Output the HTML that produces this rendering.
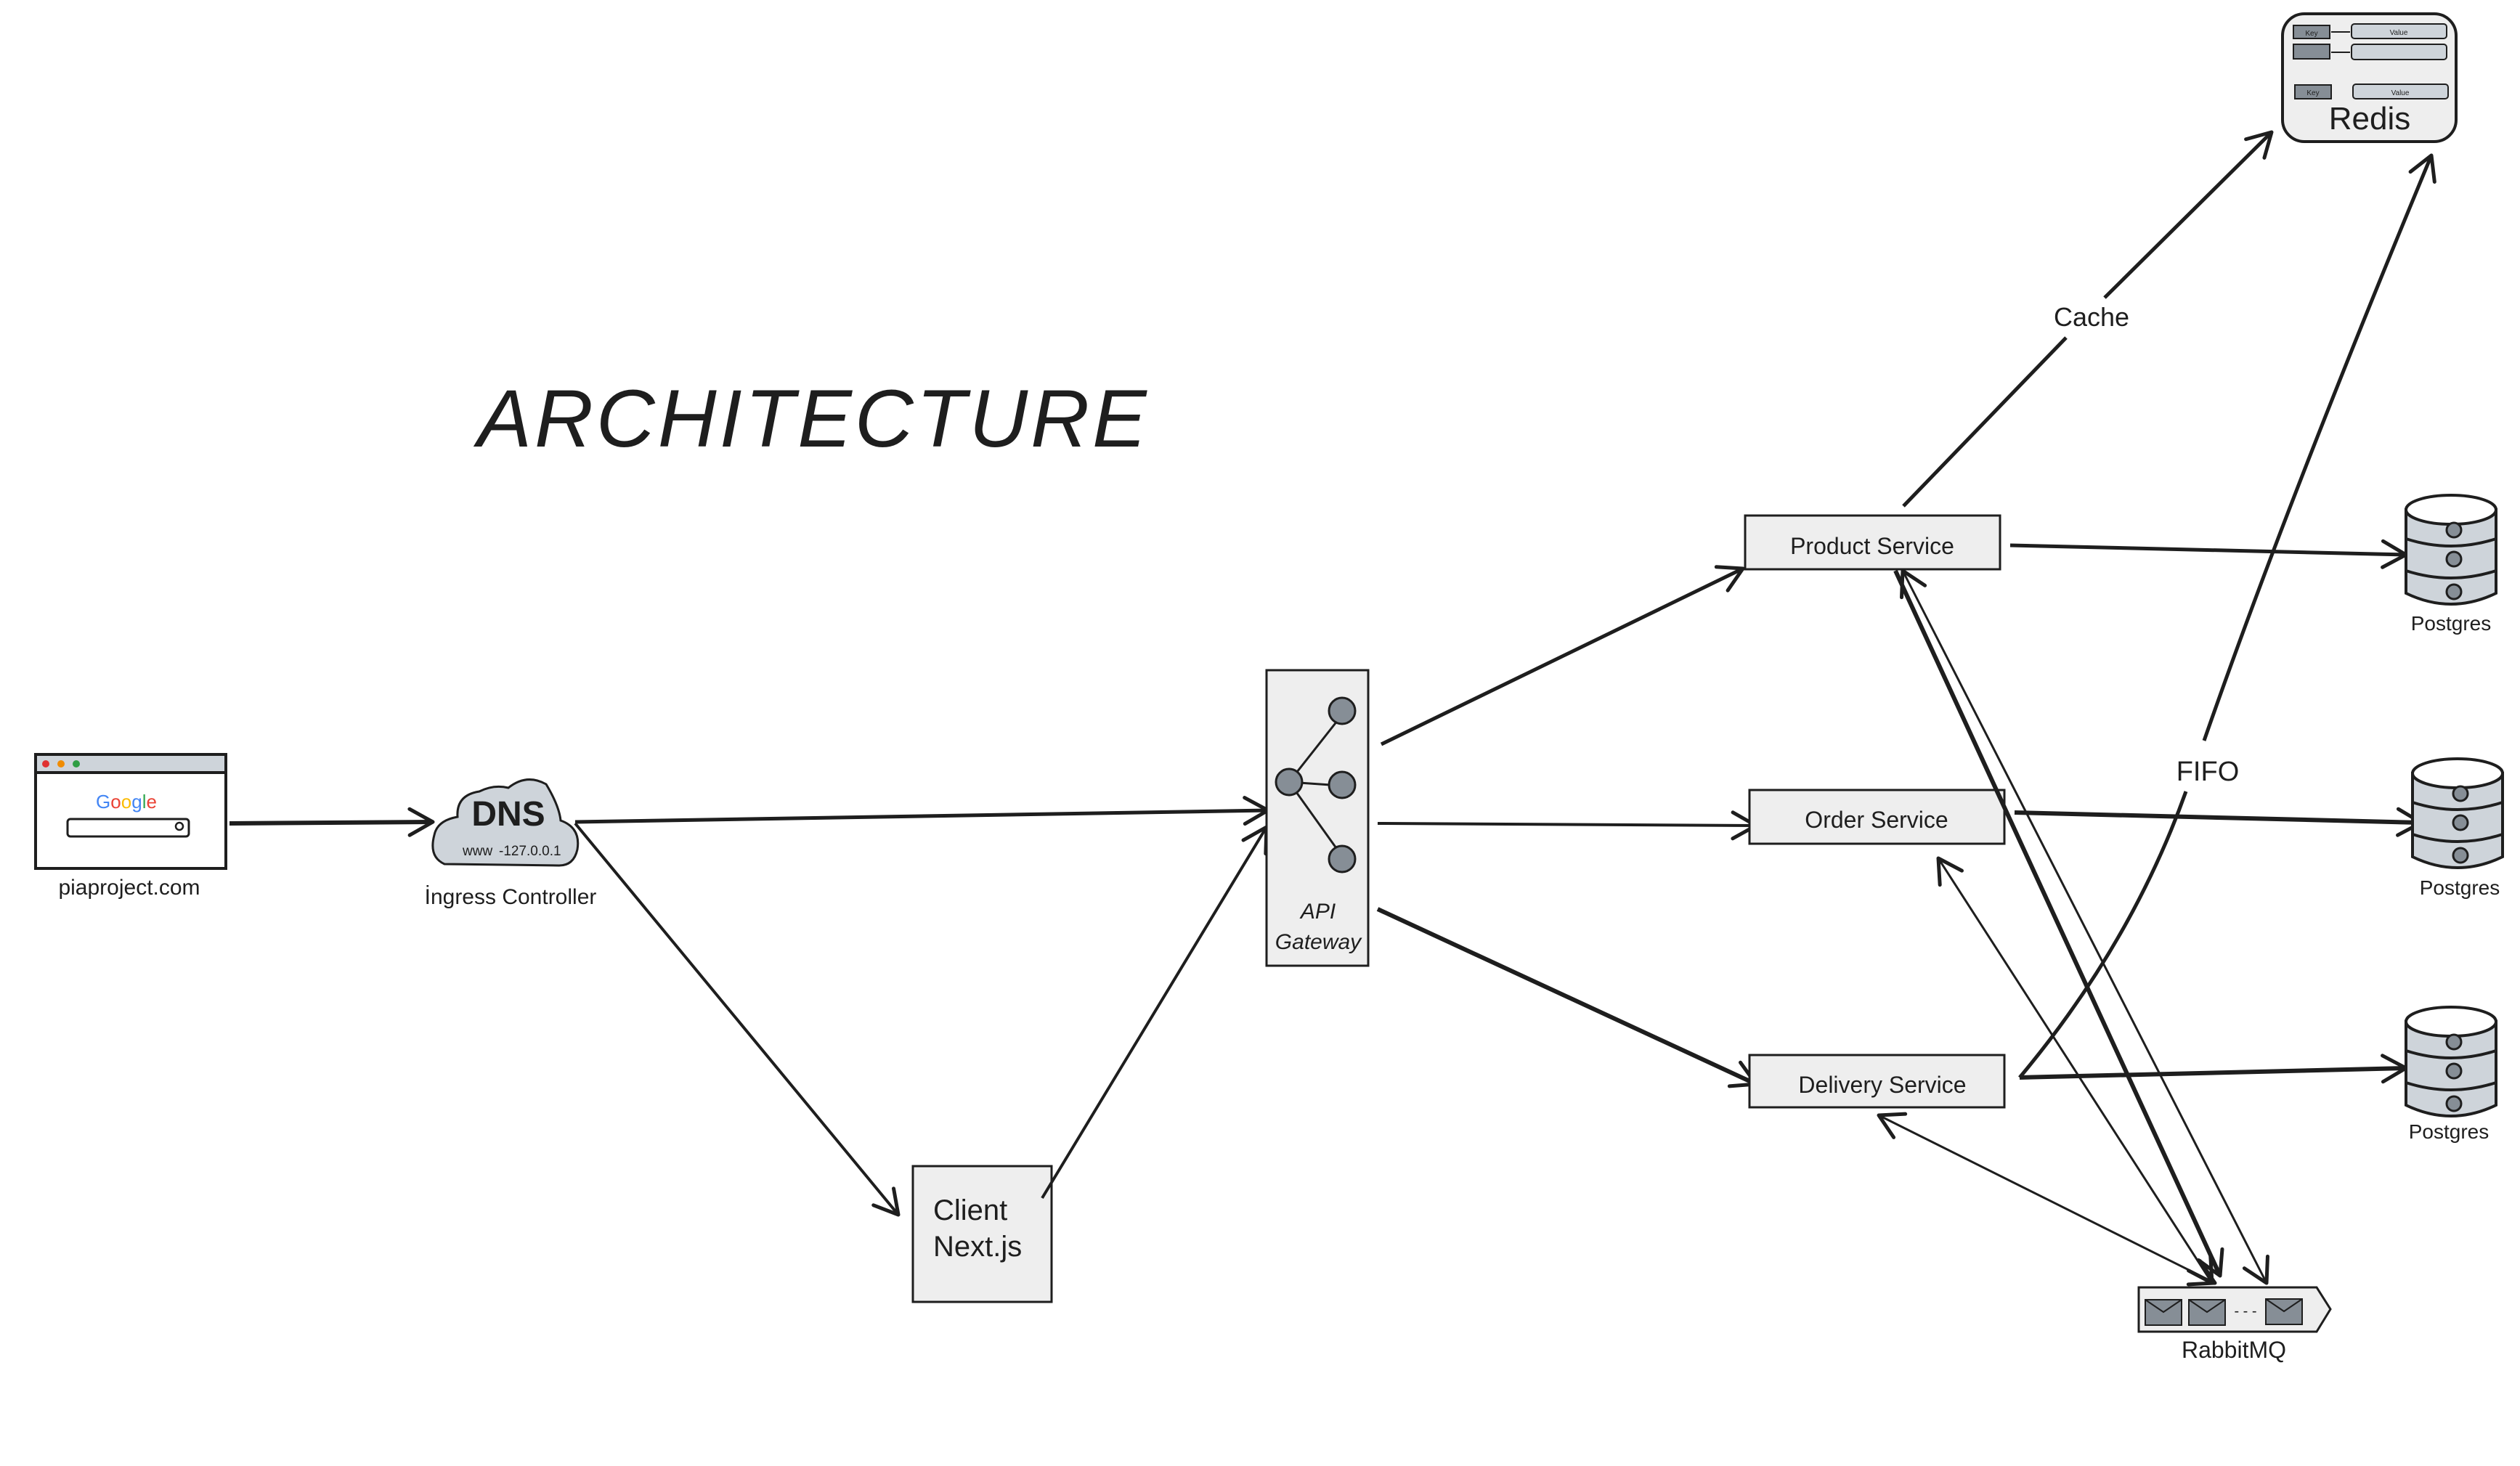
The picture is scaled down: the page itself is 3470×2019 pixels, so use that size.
<!DOCTYPE html>
<html><head><meta charset="utf-8"><style>
html,body{margin:0;padding:0;background:#fff;}
svg{display:block;}
text{font-family:"Liberation Sans",sans-serif;fill:#1e1e1e;}
</style></head><body>
<svg width="3470" height="2019" viewBox="0 0 3470 2019" xmlns="http://www.w3.org/2000/svg">
<defs>
<marker id="a" markerUnits="userSpaceOnUse" markerWidth="60" markerHeight="60" refX="40" refY="30" orient="auto-start-reverse" viewBox="0 0 60 60">
<path d="M8 12 L40 30 L8 48" fill="none" stroke="#1e1e1e" stroke-width="5" stroke-linecap="round" stroke-linejoin="round"/>
</marker>
<g id="cyl">
<path d="M0 20 L0 135 Q62 165 124 135 L124 20 Z" fill="#ced4da" stroke="#1e1e1e" stroke-width="4"/>
<ellipse cx="62" cy="20" rx="62" ry="20" fill="#fff" stroke="#1e1e1e" stroke-width="4"/>
<path d="M0 60 Q62 80 124 60 M0 104 Q62 124 124 104" fill="none" stroke="#1e1e1e" stroke-width="4"/>
<circle cx="66" cy="48" r="10" fill="#868e96" stroke="#1e1e1e" stroke-width="3"/>
<circle cx="66" cy="88" r="10" fill="#868e96" stroke="#1e1e1e" stroke-width="3"/>
<circle cx="66" cy="133" r="10" fill="#868e96" stroke="#1e1e1e" stroke-width="3"/>
</g>
</defs>

<text x="1120" y="615" font-size="112" text-anchor="middle" font-style="italic" letter-spacing="4">ARCHITECTURE</text>

<!-- Browser -->
<rect x="49" y="1039" width="262" height="157" fill="#fff" stroke="#1e1e1e" stroke-width="4"/>
<rect x="49" y="1039" width="262" height="25" fill="#ced4da" stroke="#1e1e1e" stroke-width="4"/>
<circle cx="63" cy="1052" r="5" fill="#e03131"/><circle cx="84" cy="1052" r="5" fill="#f08c00"/><circle cx="105" cy="1052" r="5" fill="#2f9e44"/>
<text x="174" y="1113" font-size="26" text-anchor="middle"><tspan fill="#4285f4">G</tspan><tspan fill="#ea4335">o</tspan><tspan fill="#fbbc05">o</tspan><tspan fill="#4285f4">g</tspan><tspan fill="#34a853">l</tspan><tspan fill="#ea4335">e</tspan></text>
<rect x="93" y="1128" width="167" height="24" rx="4" fill="#fff" stroke="#1e1e1e" stroke-width="3"/>
<circle cx="247" cy="1138" r="5" fill="none" stroke="#1e1e1e" stroke-width="2.5"/>
<text x="178" y="1232" font-size="30" text-anchor="middle">piaproject.com</text>

<line x1="316" y1="1134" x2="596" y2="1132" stroke="#1e1e1e" stroke-width="6" marker-end="url(#a)"/>

<!-- DNS -->
<path d="M612 1190 Q590 1180 598 1150 Q602 1130 630 1125 Q628 1095 660 1090 Q680 1080 700 1085 Q725 1065 752 1080 Q770 1110 772 1130 Q800 1140 795 1170 Q790 1192 770 1192 Z" fill="#ced4da" stroke="#1e1e1e" stroke-width="3"/>
<text x="700" y="1137" font-size="48" text-anchor="middle" font-weight="bold">DNS</text>
<text x="637" y="1178" font-size="19">www</text>
<text x="687" y="1178" font-size="19">-127.0.0.1</text>
<text x="703" y="1245" font-size="30" text-anchor="middle">İngress Controller</text>

<line x1="792" y1="1132" x2="1746" y2="1116" stroke="#1e1e1e" stroke-width="5" marker-end="url(#a)"/>
<line x1="792" y1="1134" x2="1237" y2="1673" stroke="#1e1e1e" stroke-width="4" marker-end="url(#a)"/>

<!-- Client -->
<rect x="1257" y="1606" width="191" height="187" fill="#eee" stroke="#1e1e1e" stroke-width="3"/>
<text x="1285" y="1680" font-size="40">Client</text>
<text x="1285" y="1730" font-size="40">Next.js</text>
<line x1="1435" y1="1650" x2="1744" y2="1139" stroke="#1e1e1e" stroke-width="4" marker-end="url(#a)"/>

<!-- API Gateway -->
<rect x="1744" y="923" width="140" height="407" fill="#eee" stroke="#1e1e1e" stroke-width="3"/>
<line x1="1775" y1="1077" x2="1842" y2="992" stroke="#1e1e1e" stroke-width="3"/>
<line x1="1775" y1="1077" x2="1832" y2="1081" stroke="#1e1e1e" stroke-width="3"/>
<line x1="1775" y1="1077" x2="1840" y2="1168" stroke="#1e1e1e" stroke-width="3"/>
<circle cx="1775" cy="1077" r="18" fill="#868e96" stroke="#1e1e1e" stroke-width="3"/>
<circle cx="1848" cy="979" r="18" fill="#868e96" stroke="#1e1e1e" stroke-width="3"/>
<circle cx="1848" cy="1081" r="18" fill="#868e96" stroke="#1e1e1e" stroke-width="3"/>
<circle cx="1848" cy="1183" r="18" fill="#868e96" stroke="#1e1e1e" stroke-width="3"/>
<text x="1815" y="1265" font-size="30" text-anchor="middle" font-style="italic">API</text>
<text x="1815" y="1307" font-size="30" text-anchor="middle" font-style="italic">Gateway</text>

<line x1="1902" y1="1025" x2="2400" y2="783" stroke="#1e1e1e" stroke-width="5" marker-end="url(#a)"/>
<line x1="1897" y1="1134" x2="2418" y2="1137" stroke="#1e1e1e" stroke-width="4" marker-end="url(#a)"/>
<line x1="1897" y1="1252" x2="2418" y2="1493" stroke="#1e1e1e" stroke-width="6" marker-end="url(#a)"/>

<!-- Services -->
<rect x="2403" y="710" width="351" height="74" fill="#eee" stroke="#1e1e1e" stroke-width="3"/>
<text x="2578" y="763" font-size="32" text-anchor="middle">Product Service</text>
<rect x="2409" y="1088" width="351" height="74" fill="#eee" stroke="#1e1e1e" stroke-width="3"/>
<text x="2584" y="1140" font-size="32" text-anchor="middle">Order Service</text>
<rect x="2409" y="1453" width="351" height="72" fill="#eee" stroke="#1e1e1e" stroke-width="3"/>
<text x="2592" y="1505" font-size="32" text-anchor="middle">Delivery Service</text>

<!-- Redis -->
<rect x="3143" y="19" width="239" height="176" rx="30" fill="#eee" stroke="#1e1e1e" stroke-width="4"/>
<rect x="3158" y="35" width="50" height="18" fill="#868e96" stroke="#1e1e1e" stroke-width="2"/>
<rect x="3238" y="33" width="131" height="20" rx="4" fill="#ced4da" stroke="#1e1e1e" stroke-width="2"/>
<rect x="3158" y="61" width="50" height="20" fill="#868e96" stroke="#1e1e1e" stroke-width="2"/>
<rect x="3238" y="61" width="131" height="21" rx="4" fill="#ced4da" stroke="#1e1e1e" stroke-width="2"/>
<rect x="3160" y="117" width="50" height="19" fill="#868e96" stroke="#1e1e1e" stroke-width="2"/>
<rect x="3240" y="116" width="131" height="20" rx="4" fill="#ced4da" stroke="#1e1e1e" stroke-width="2"/>
<line x1="3210" y1="44" x2="3236" y2="44" stroke="#1e1e1e" stroke-width="2"/>
<line x1="3210" y1="72" x2="3236" y2="72" stroke="#1e1e1e" stroke-width="2"/>
<text x="3183" y="49" font-size="10" text-anchor="middle">Key</text>
<text x="3303" y="48" font-size="10" text-anchor="middle">Value</text>
<text x="3185" y="131" font-size="10" text-anchor="middle">Key</text>
<text x="3305" y="131" font-size="10" text-anchor="middle">Value</text>
<text x="3263" y="178" font-size="44" text-anchor="middle">Redis</text>

<!-- Cache arrow -->
<line x1="2621" y1="697" x2="2845" y2="465" stroke="#1e1e1e" stroke-width="5"/>
<line x1="2898" y1="410" x2="3128" y2="182" stroke="#1e1e1e" stroke-width="5" marker-end="url(#a)"/>
<text x="2880" y="449" font-size="36" text-anchor="middle">Cache</text>

<!-- FIFO curve -->
<path d="M2781 1484 Q2935 1300 3010 1090" fill="none" stroke="#1e1e1e" stroke-width="5"/>
<path d="M3035 1020 Q3150 690 3348 214" fill="none" stroke="#1e1e1e" stroke-width="5" marker-end="url(#a)"/>
<text x="3040" y="1075" font-size="38" text-anchor="middle">FIFO</text>

<!-- Postgres -->
<line x1="2768" y1="751" x2="3313" y2="764" stroke="#1e1e1e" stroke-width="5" marker-end="url(#a)"/>
<use href="#cyl" x="3313" y="682"/>
<text x="3375" y="868" font-size="28" text-anchor="middle">Postgres</text>
<line x1="2774" y1="1119" x2="3334" y2="1133" stroke="#1e1e1e" stroke-width="6" marker-end="url(#a)"/>
<use href="#cyl" x="3322" y="1045"/>
<text x="3387" y="1232" font-size="28" text-anchor="middle">Postgres</text>
<line x1="2781" y1="1484" x2="3313" y2="1471" stroke="#1e1e1e" stroke-width="6" marker-end="url(#a)"/>
<use href="#cyl" x="3313" y="1387"/>
<text x="3372" y="1568" font-size="28" text-anchor="middle">Postgres</text>

<!-- RabbitMQ -->
<path d="M2945 1773 L3190 1773 L3209 1803 L3190 1834 L2945 1834 Z" fill="#eee" stroke="#1e1e1e" stroke-width="3"/>
<g fill="#868e96" stroke="#1e1e1e" stroke-width="2">
<rect x="2954" y="1790" width="50" height="35"/><rect x="3014" y="1790" width="50" height="35"/><rect x="3120" y="1789" width="50" height="35"/>
</g>
<path d="M2954 1790 L2979 1807 L3004 1790 M3014 1790 L3039 1807 L3064 1790 M3120 1789 L3145 1806 L3170 1789" fill="none" stroke="#1e1e1e" stroke-width="2"/>
<text x="3092" y="1812" font-size="20" text-anchor="middle">- - -</text>
<text x="3076" y="1870" font-size="32" text-anchor="middle">RabbitMQ</text>

<line x1="2610" y1="786" x2="3057" y2="1757" stroke="#1e1e1e" stroke-width="6" marker-end="url(#a)"/>
<line x1="2620" y1="786" x2="3121" y2="1767" stroke="#1e1e1e" stroke-width="3" marker-start="url(#a)" marker-end="url(#a)"/>
<line x1="2669" y1="1182" x2="3046" y2="1767" stroke="#1e1e1e" stroke-width="3" marker-start="url(#a)" marker-end="url(#a)"/>
<line x1="2587" y1="1536" x2="3050" y2="1767" stroke="#1e1e1e" stroke-width="3" marker-start="url(#a)" marker-end="url(#a)"/>
</svg>
</body></html>
